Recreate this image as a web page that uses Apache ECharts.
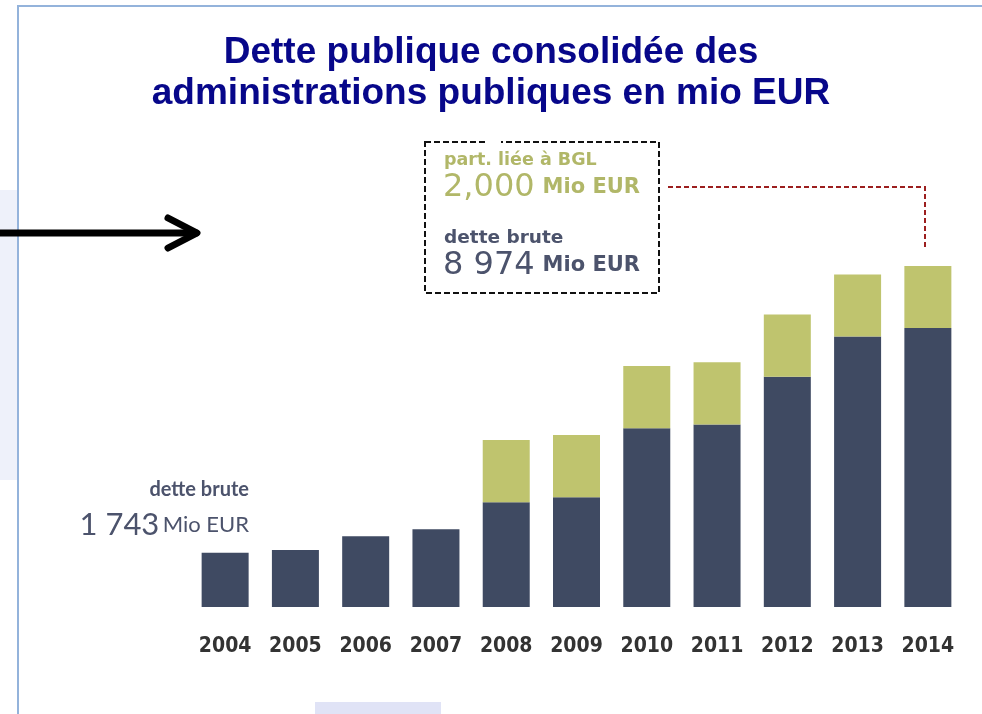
<!DOCTYPE html>
<html>
<head>
<meta charset="utf-8">
<script src="https://cdn.jsdelivr.net/npm/echarts@6/dist/echarts.min.js"></script>
<style>
  html, body { margin: 0; padding: 0; background: #fff; }
  #chart { width: 982px; height: 714px; }
</style>
</head>
<body>
<div id="chart"></div>
<script>
// données (mio EUR)
const years = ['2004', '2005', '2006', '2007', '2008', '2009', '2010', '2011', '2012', '2013', '2014']
const detteBrute = [1743, 1830, 2280, 2500, 3370, 3530, 5750, 5870, 7410, 8700, 8974]
const partBGL = [0, 0, 0, 0, 2000, 2000, 2000, 2000, 2000, 2000, 2000]

const navy = '#3f4a62'
const olive = '#bfc46e'
const txtNavy = '#4c536c'
const txtOlive = '#b1b768'

// format "8 974"
const fmtSpace = v => String(v).replace(/\B(?=(\d{3})+(?!\d))/g, ' ')
const fmtComma = v => (v / 1000).toFixed(3).replace('.', ',')

const chart = echarts.init(document.getElementById('chart'))

const last = years.length - 1

const option = {
  animation: false,
  title: {
    text: 'Dette publique consolidée des\nadministrations publiques en mio EUR',
    left: 'center',
    top: 27,
    textStyle: {
      fontFamily: 'Liberation Sans, Arial, sans-serif',
      fontSize: 37,
      fontWeight: 'bold',
      color: '#07078a',
      lineHeight: 41
    }
  },
  grid: {
    left: 190,
    right: 19,
    top: 234,
    bottom: 107,
    containLabel: false
  },
  xAxis: {
    type: 'category',
    data: years,
    axisLine: { show: false },
    axisTick: { show: false },
    axisLabel: {
      margin: 29,
      fontFamily: "'Liberation Sans Narrow', 'DejaVu Sans Condensed', sans-serif",
      fontSize: 21,
      fontWeight: 'bold',
      color: '#333'
    }
  },
  yAxis: {
    type: 'value',
    show: false,
    min: 0,
    max: 12000
  },
  series: [
    {
      name: 'dette brute',
      type: 'bar',
      stack: 'total',
      barWidth: 47,
      data: detteBrute,
      itemStyle: { color: navy }
    },
    {
      name: 'part. liée à BGL',
      type: 'bar',
      stack: 'total',
      barWidth: 47,
      data: partBGL,
      itemStyle: { color: olive }
    }
  ],
  graphic: [
    // cadre de la diapo
    { type: 'rect', shape: { x: 0, y: 190, width: 17, height: 290 }, style: { fill: '#eef1fa' }, silent: true },
    { type: 'rect', shape: { x: 315, y: 702, width: 126, height: 12 }, style: { fill: '#e0e3f6' }, silent: true },
    { type: 'line', shape: { x1: 17, y1: 6, x2: 982, y2: 6 }, style: { stroke: '#94b3db', lineWidth: 2 }, silent: true },
    { type: 'line', shape: { x1: 18, y1: 5, x2: 18, y2: 714 }, style: { stroke: '#94b3db', lineWidth: 2 }, silent: true },
    // flèche
    { type: 'line', shape: { x1: 0, y1: 233, x2: 196, y2: 233 }, style: { stroke: '#000', lineWidth: 7, lineCap: 'round' }, silent: true },
    { type: 'polyline', shape: { points: [[168, 218], [197, 233], [168, 248]] }, style: { stroke: '#000', lineWidth: 7, lineCap: 'round', lineJoin: 'round', fill: 'none' }, silent: true },
    // encadré
    { type: 'rect', shape: { x: 425, y: 142, width: 234, height: 151 }, style: { fill: 'none', stroke: '#111', lineWidth: 2, lineDash: [6, 3] }, silent: true },
    { type: 'rect', shape: { x: 485, y: 138, width: 16, height: 8 }, style: { fill: '#fff' }, silent: true },
    { type: 'polyline', shape: { points: [[668, 187], [925, 187], [925, 247]] }, style: { stroke: '#9c1f1f', lineWidth: 2, lineDash: [5, 3], fill: 'none' }, silent: true },
    {
      type: 'text', left: 444, top: 151,
      style: { text: 'part. liée à BGL', fontFamily: 'DejaVu Sans, sans-serif', fontSize: 17.5, fontWeight: 'bold', fill: txtOlive }
    },
    {
      type: 'text', left: 443, top: 172,
      style: {
        text: '{a|' + fmtComma(partBGL[last]) + '}{b|Mio EUR}',
        rich: {
          a: { fontFamily: 'DejaVu Sans, sans-serif', fontSize: 32, fill: txtOlive, padding: [0, 8, 0, 0] },
          b: { fontFamily: 'DejaVu Sans, sans-serif', fontSize: 21, fontWeight: 'bold', fill: txtOlive }
        }
      }
    },
    {
      type: 'text', left: 444, top: 229,
      style: { text: 'dette brute', fontFamily: 'DejaVu Sans, sans-serif', fontSize: 18.5, fontWeight: 'bold', fill: txtNavy }
    },
    {
      type: 'text', left: 443, top: 250,
      style: {
        text: '{a|' + fmtSpace(detteBrute[last]) + '}{b|Mio EUR}',
        rich: {
          a: { fontFamily: 'DejaVu Sans, sans-serif', fontSize: 32, fill: txtNavy, padding: [0, 8, 0, 0] },
          b: { fontFamily: 'DejaVu Sans, sans-serif', fontSize: 21, fontWeight: 'bold', fill: txtNavy }
        }
      }
    },
    // étiquette 2004
    {
      type: 'text', right: 982 - 249, top: 480,
      style: { text: 'dette brute', fontFamily: 'Lato, sans-serif', fontSize: 20, fontWeight: 'bold', fill: txtNavy, textAlign: 'right' }
    },
    {
      type: 'text', right: 982 - 249, top: 509,
      style: {
        text: '{a|' + fmtSpace(detteBrute[0]) + '} {b|Mio EUR}',
        rich: {
          a: { fontFamily: 'Lato, sans-serif', fontSize: 31, fill: txtNavy },
          b: { fontFamily: 'Lato, sans-serif', fontSize: 22, fill: txtNavy }
        }
      }
    }
  ]
}

chart.setOption(option)
window.addEventListener('resize', () => chart.resize())
</script>
</body>
</html>
